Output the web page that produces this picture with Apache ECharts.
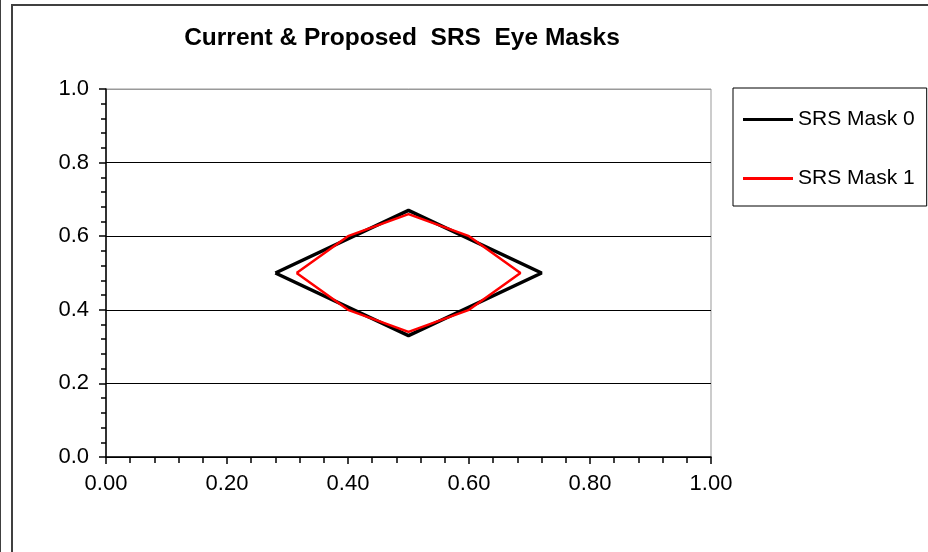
<!DOCTYPE html>
<html>
<head>
<meta charset="utf-8">
<script src="https://cdn.jsdelivr.net/npm/echarts@6/dist/echarts.min.js"></script>
<style>html,body{margin:0;padding:0;background:#fff;}#c{width:928px;height:552px;}</style>
</head>
<body>
<div id="c"></div>
<script>
const titleText = 'Current & Proposed  SRS  Eye Masks';
const seriesNames = ['SRS Mask 0', 'SRS Mask 1'];
const mask0X = [0.28, 0.50, 0.72, 0.50, 0.28];
const mask0Y = [0.50, 0.67, 0.50, 0.33, 0.50];
const mask1X = [0.315, 0.40, 0.50, 0.60, 0.685, 0.60, 0.50, 0.40, 0.315];
const mask1Y = [0.50, 0.60, 0.66, 0.60, 0.50, 0.40, 0.34, 0.40, 0.50];
const xTicks = [0, 0.2, 0.4, 0.6, 0.8, 1.0];
const yTicks = [0, 0.2, 0.4, 0.6, 0.8, 1.0];

const FONT = "'Liberation Sans', Arial, sans-serif";
const pairs = (xs, ys) => xs.map((x, i) => [x, ys[i]]);

const chart = echarts.init(document.getElementById('c'), null, {renderer: 'canvas'});
chart.setOption({
  animation: false,
  backgroundColor: '#fff',
  title: {
    text: titleText,
    left: 397,
    top: 21,
    textAlign: 'center',
    textStyle: {fontFamily: FONT, fontWeight: 'bold', fontSize: 24.5, color: '#000'}
  },
  graphic: [
    {type: 'line', shape: {x1: 0.5, y1: 0, x2: 0.5, y2: 552}, style: {stroke: '#404040', lineWidth: 1}},
    {type: 'rect', shape: {x: 12, y: 5, width: 1000, height: 600}, style: {fill: 'none', stroke: '#404040', lineWidth: 2}}
  ],
  legend: {
    orient: 'vertical',
    left: 733,
    top: 88,
    padding: [21, 12, 17, 10],
    itemGap: 38,
    itemWidth: 50,
    itemHeight: 3,
    icon: 'rect',
    backgroundColor: '#fff',
    borderColor: '#000',
    borderWidth: 1,
    borderRadius: 0,
    textStyle: {fontFamily: FONT, fontSize: 21, color: '#000'},
    data: seriesNames
  },
  grid: {left: 106, right: 217, top: 89, bottom: 95, show: true, borderColor: '#999', borderWidth: 1, backgroundColor: 'transparent'},
  xAxis: {
    type: 'value', min: 0, max: 1, interval: 0.2,
    axisLine: {show: true, onZero: false, lineStyle: {color: '#000', width: 1.5}},
    axisTick: {show: true, inside: false, length: 7, lineStyle: {color: '#000', width: 1.5}},
    minorTick: {show: true, splitNumber: 5, length: 6, lineStyle: {color: '#000', width: 1.5}},
    splitLine: {show: false},
    axisLabel: {fontFamily: FONT, fontSize: 22, color: '#000', margin: 16,
      formatter: v => { const t = xTicks.find(k => Math.abs(k - v) < 1e-9); return (t === undefined ? v : t).toFixed(2); }}
  },
  yAxis: {
    type: 'value', min: 0, max: 1, interval: 0.2,
    axisLine: {show: true, onZero: false, lineStyle: {color: '#000', width: 1.5}},
    axisTick: {show: true, inside: false, length: 7, lineStyle: {color: '#000', width: 1.5}},
    minorTick: {show: true, splitNumber: 5, length: 5, lineStyle: {color: '#000', width: 1.5}},
    splitLine: {show: true, lineStyle: {color: ['#000', '#000', '#000', '#000', '#000', '#999'], width: 1.2}},
    axisLabel: {fontFamily: FONT, fontSize: 22, color: '#000', margin: 17,
      formatter: v => { const t = yTicks.find(k => Math.abs(k - v) < 1e-9); return (t === undefined ? v : t).toFixed(1); }}
  },
  series: [
    {name: seriesNames[0], type: 'line', data: pairs(mask0X, mask0Y), showSymbol: false, symbol: 'none',
      lineStyle: {color: '#000', width: 3.5}, itemStyle: {color: '#000'}, z: 2},
    {name: seriesNames[1], type: 'line', data: pairs(mask1X, mask1Y), showSymbol: false, symbol: 'none',
      lineStyle: {color: '#ff0000', width: 2.5}, itemStyle: {color: '#ff0000'}, z: 3}
  ]
});
</script>
</body>
</html>
